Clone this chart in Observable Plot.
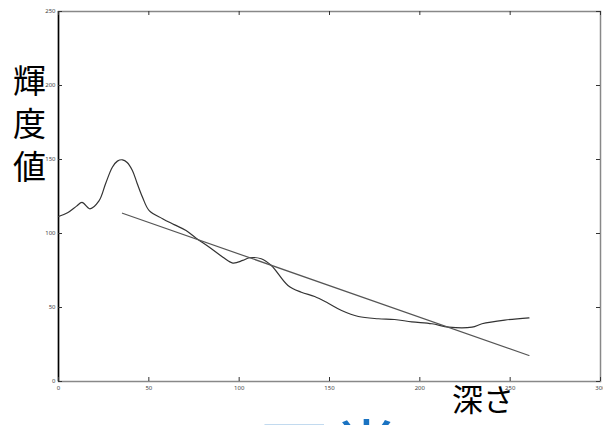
<!DOCTYPE html>
<html>
<head>
<meta charset="utf-8">
<script src="https://cdn.jsdelivr.net/npm/d3@7"></script>
<script src="https://cdn.jsdelivr.net/npm/@observablehq/plot@0.6"></script>
<style>
  html, body { margin: 0; padding: 0; background: #fff; overflow: hidden; }
  #wrap { position: relative; width: 603px; height: 425px; overflow: hidden; }
  #chart { position: absolute; left: 0; top: 0; }
  .lbl { position: absolute; font-family: "Noto Sans CJK JP", sans-serif; color: #000; line-height: 1; white-space: nowrap; }
</style>
</head>
<body>
<div id="wrap">
  <div id="chart"></div>
  <div class="lbl" id="ylab" style="left:13px; top:58px; font-size:33px; line-height:43px; width:35px;">輝<br>度<br>値</div>
  <div class="lbl" id="xlab" style="left:452px; top:382px; font-size:31px;">深さ</div>
  <div class="lbl" id="blue" style="left:258px; top:413px; font-size:72px; color:#1a73c2;">正常</div>
</div>
<script>
// Brightness profile vs depth
const depth = [0, 5, 10, 13, 17.4, 22.4, 26.1, 29.8, 32.6, 35.4, 38, 40.9, 43.5, 46.5, 50.2, 57.6, 64, 70.6, 76, 83.5, 91, 96.5, 102, 105.7, 112.2, 117.8, 127, 134.4, 141.8, 149.3, 156.7, 166, 177, 186, 195.6, 206.7, 216, 228.9, 234.4, 247, 260.4];
const brightness = [111.5, 114, 118.5, 121, 116.7, 122, 133.8, 144.8, 148.9, 149.8, 148, 142.6, 134, 124.5, 115.5, 110, 106, 102, 97, 90.7, 84, 80, 81.8, 83.6, 82.9, 78.4, 64.9, 60.3, 57.4, 52.9, 48, 43.9, 42.4, 41.9, 40.3, 39, 36.7, 36.7, 39, 41.5, 43];
// Fitted straight line (endpoints)
const fitDepth = [35.4, 260.4];
const fitBrightness = [113.7, 17.6];
// Axis ticks
const xTicks = [0, 50, 100, 150, 200, 250, 300];
const yTicks = [0, 50, 100, 150, 200, 250];

const curve = depth.map((d, i) => ({x: d, y: brightness[i]}));
const fit = fitDepth.map((d, i) => ({x: d, y: fitBrightness[i]}));

const W = 603, H = 425, mt = 11, mb = 44, ml = 58, mr = 3;
const plotH = H - mt - mb, plotW = W - ml - mr;

const chart = Plot.plot({
  width: W, height: H,
  marginTop: mt, marginBottom: mb, marginLeft: ml, marginRight: mr,
  x: {domain: [0, 300]},
  y: {domain: [0, 250]},
  style: {background: "#fff"},
  marks: [
    Plot.frame({stroke: "#888", strokeWidth: 1.5}),
    Plot.ruleX([0], {stroke: "#000", strokeWidth: 1.5}),
    // inward ticks: bottom, top
    Plot.tickX(xTicks, {x: d => d, insetTop: plotH - 4, stroke: "#333"}),
    Plot.tickX(xTicks, {x: d => d, insetBottom: plotH - 4, stroke: "#333"}),
    // inward ticks: left, right
    Plot.tickY(yTicks, {y: d => d, insetRight: plotW - 4, stroke: "#333"}),
    Plot.tickY(yTicks, {y: d => d, insetLeft: plotW - 4, stroke: "#333"}),
    Plot.axisX(xTicks, {anchor: "bottom", tickSize: 0, tickPadding: 4, fontSize: 6, fill: "#444", label: null}),
    Plot.axisY(yTicks, {anchor: "left", tickSize: 0, tickPadding: 3, fontSize: 6, fill: "#444", label: null}),
    Plot.line(curve, {x: "x", y: "y", curve: "catmull-rom", stroke: "#333", strokeWidth: 1.2}),
    Plot.line(fit, {x: "x", y: "y", stroke: "#555", strokeWidth: 1.2})
  ]
});
document.getElementById("chart").appendChild(chart);
</script>
</body>
</html>
